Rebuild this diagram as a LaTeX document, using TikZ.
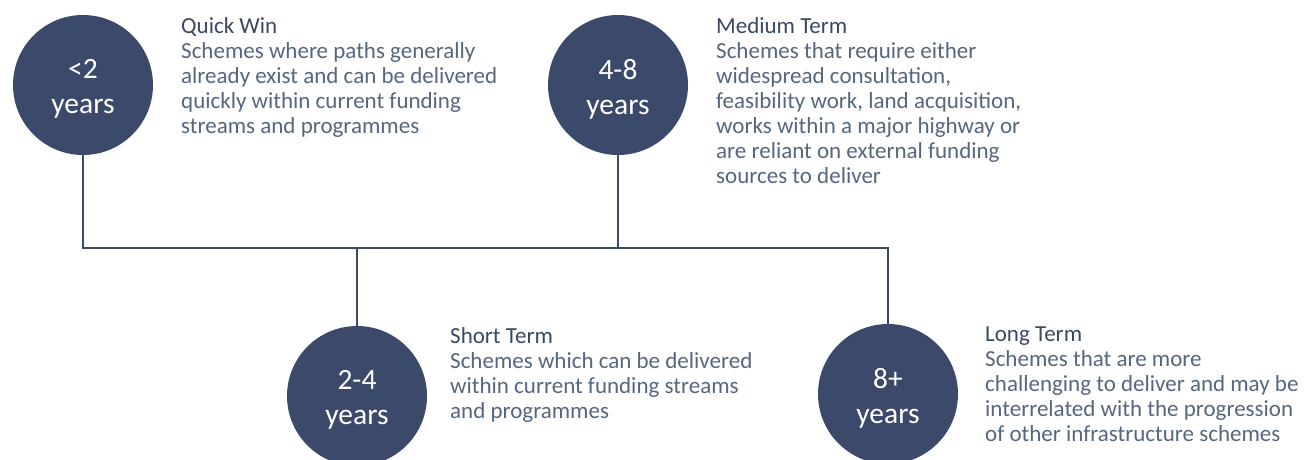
\documentclass[tikz,border=0pt]{standalone}
\usepackage{fontspec}
\setmainfont{Carlito}
\definecolor{circfill}{HTML}{3B4A6A}
\definecolor{titlecol}{HTML}{3A4865}
\definecolor{bodycol}{HTML}{56667F}
\definecolor{linecol}{HTML}{3B4A6A}
\begin{document}
\begin{tikzpicture}[x=1pt,y=-1pt,
  period/.style={circle,fill=circfill,minimum size=140pt,inner sep=0pt,
    label={[text=white,align=center,yshift=-4pt,font=\fontsize{29.5}{35}\selectfont]center:#1}},
  desc/.style={anchor=north west,inner sep=0pt,align=left,text=bodycol,font=\fontsize{23}{25}\selectfont},
  conn/.style={draw=linecol,line width=1.8pt}]
\useasboundingbox (0,0) rectangle (1306,459);
\node[period={<2\\years}] (c1) at (83,85) {};
\node[period={4-8\\years}] (c2) at (618,85) {};
\node[period={2-4\\years}] (c3) at (357,396) {};
\node[period={8+\\years}] (c4) at (888,394) {};
\node[desc] (t1) at (181,17) {\textcolor{titlecol}{Quick Win}\\Schemes where paths generally\\already exist and can be delivered\\quickly within current funding\\streams and programmes};
\node[desc] (t2) at (716,17) {\textcolor{titlecol}{Medium Term}\\Schemes that require either\\widespread consultation,\\feasibility work, land acquisition,\\works within a major highway or\\are reliant on external funding\\sources to deliver};
\node[desc] (t3) at (450,327) {\textcolor{titlecol}{Short Term}\\Schemes which can be delivered\\within current funding streams\\and programmes};
\node[desc] (t4) at (985,327) {\textcolor{titlecol}{Long Term}\\Schemes that are more\\challenging to deliver and may be\\interrelated with the progression\\of other infrastructure schemes};
\coordinate (hl) at (83,248);
\coordinate (hr) at (888,248);
\draw[conn] (c1.south) -- (hl) -- (hr) -- (c4.north);
\draw[conn] (c2.south) -- (c2.south |- hl);
\draw[conn] (c3.north) -- (c3.north |- hl);
\end{tikzpicture}
\end{document}
